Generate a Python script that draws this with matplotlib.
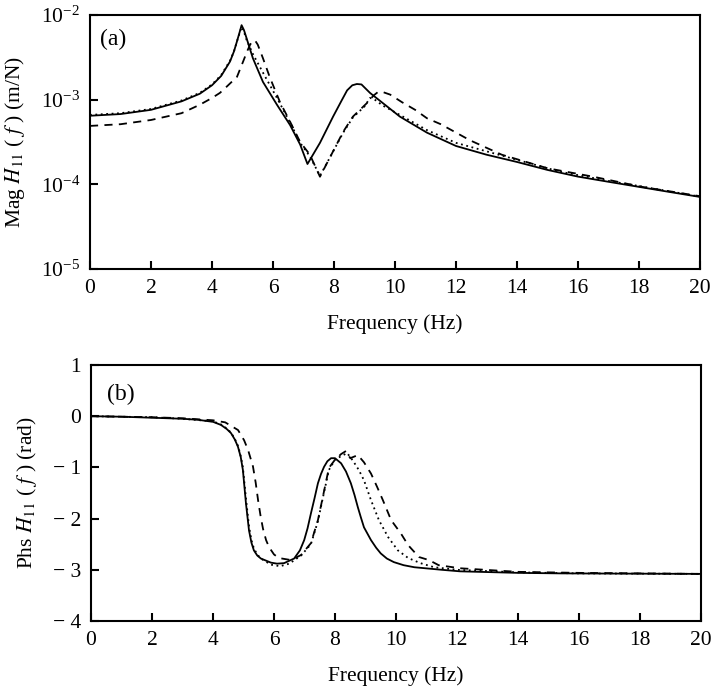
import numpy as np
import matplotlib
matplotlib.use('Agg')
import matplotlib.pyplot as plt

plt.rcParams['font.family'] = ['Liberation Serif', 'DejaVu Serif']
plt.rcParams['mathtext.fontset'] = 'stix'

# ---- panel (a): magnitude, stored as log10 of m/N ----
f_mag_solid = [0, 1, 2, 3, 3.6, 4.0, 4.3, 4.59, 4.72, 4.82, 4.9, 4.97, 5.05, 5.13, 5.34, 5.67, 6.13,
               6.56, 6.89, 7.13, 7.54, 7.97, 8.25, 8.43, 8.6, 8.75, 8.9, 9.18, 9.6, 10.16, 11.05, 12, 13,
               14, 15, 16, 17, 18, 19, 20]
logmag_solid = [-3.19, -3.17, -3.12, -3.02, -2.93, -2.83, -2.72, -2.55, -2.43, -2.31, -2.21, -2.12, -2.18,
                -2.27, -2.51, -2.79, -3.06, -3.30, -3.53, -3.76, -3.51, -3.20, -3.01, -2.89, -2.83, -2.815,
                -2.82, -2.92, -3.04, -3.20, -3.39, -3.547, -3.65, -3.736, -3.83, -3.909, -3.97, -4.03,
                -4.09, -4.149]

f_mag_dashed = [0, 1, 2, 3, 3.6, 4.0, 4.26, 4.5, 4.82, 5.02, 5.15, 5.25, 5.33, 5.41, 5.5, 5.67, 5.9, 6.23,
                6.56, 6.89, 7.21, 7.54, 7.87, 8.3, 8.62, 9.08, 9.3, 9.44, 9.6, 9.84, 10.23, 10.66, 11.05,
                11.5, 12.46, 13.5, 15, 16.5, 18.1, 20]
logmag_dashed = [-3.31, -3.29, -3.24, -3.16, -3.06, -2.98, -2.92, -2.84, -2.73, -2.55, -2.43, -2.35, -2.31,
                 -2.30, -2.35, -2.51, -2.74, -3.03, -3.26, -3.50, -3.65, -3.91, -3.68, -3.38, -3.20, -3.04,
                 -2.95, -2.91, -2.91, -2.94, -3.03, -3.12, -3.22, -3.29, -3.48, -3.65, -3.81, -3.91, -4.03,
                 -4.14]

f_mag_dotted = [0, 1, 2, 3, 3.6, 4.0, 4.3, 4.59, 4.72, 4.82, 4.9, 4.97, 5.05, 5.13, 5.34, 5.67, 6.13, 6.56,
                6.89, 7.21, 7.54, 7.87, 8.3, 8.62, 9.0, 9.18, 9.3, 9.6, 10.16, 11.05, 12, 13.2, 15.4, 17,
                18, 20]
logmag_dotted = [-3.18, -3.16, -3.11, -3.01, -2.92, -2.82, -2.71, -2.54, -2.43, -2.31, -2.22, -2.14, -2.2,
                 -2.29, -2.46, -2.68, -2.98, -3.27, -3.51, -3.67, -3.90, -3.68, -3.39, -3.21, -3.08, -2.98,
                 -2.99, -3.07, -3.18, -3.36, -3.51, -3.63, -3.85, -3.96, -4.02, -4.145]

# ---- panel (b): phase in rad ----
f_phs_solid = [0, 1, 2, 3, 3.5, 4.0, 4.26, 4.45, 4.59, 4.72, 4.82, 4.91, 4.98, 5.08, 5.18, 5.26, 5.34,
               5.45, 5.57, 5.9, 6.1, 6.33, 6.66, 6.85, 6.99, 7.1, 7.21, 7.33, 7.44, 7.54, 7.64, 7.75, 7.87,
               8.0, 8.2, 8.36, 8.52, 8.64, 8.75, 8.85, 8.95, 9.18, 9.35, 9.5, 9.7, 9.93, 10.25, 10.6, 11.5,
               12.1, 14, 15.4, 20]
phs_solid = [0.0, -0.01, -0.03, -0.05, -0.07, -0.11, -0.17, -0.25, -0.33, -0.46, -0.6, -0.8, -1.05, -1.7,
             -2.23, -2.47, -2.62, -2.72, -2.78, -2.86, -2.88, -2.87, -2.78, -2.62, -2.42, -2.19, -1.9,
             -1.6, -1.31, -1.13, -0.99, -0.88, -0.82, -0.82, -0.92, -1.08, -1.31, -1.54, -1.78, -1.98,
             -2.17, -2.42, -2.57, -2.68, -2.78, -2.85, -2.91, -2.95, -3.0, -3.03, -3.06, -3.07, -3.08]

f_phs_dashed = [0, 1, 2, 3, 4, 4.4, 4.82, 5.02, 5.15, 5.31, 5.4, 5.48, 5.56, 5.64, 5.74, 5.84, 6.0, 6.16,
                6.56, 6.89, 7.21, 7.44, 7.6, 7.8, 8.0, 8.2, 8.36, 8.5, 8.75, 8.95, 9.18, 9.38, 9.57, 9.84,
                10.16, 10.4, 10.75, 11.08, 11.4, 12.1, 14, 16, 18, 20]
phs_dashed = [0.0, -0.01, -0.02, -0.04, -0.08, -0.12, -0.27, -0.47, -0.66, -0.98, -1.3, -1.65, -1.95, -2.2,
              -2.42, -2.56, -2.7, -2.77, -2.81, -2.71, -2.48, -2.03, -1.58, -1.01, -0.85, -0.74, -0.68,
              -0.82, -0.76, -0.9, -1.12, -1.38, -1.64, -2.03, -2.29, -2.52, -2.75, -2.81, -2.91, -2.97,
              -3.04, -3.06, -3.07, -3.08]

f_phs_dotted = [0, 1, 2, 3, 4, 4.26, 4.45, 4.59, 4.72, 4.82, 4.91, 4.98, 5.08, 5.18, 5.26, 5.34, 5.45,
                5.57, 5.9, 6.2, 6.5, 6.89, 7.21, 7.44, 7.6, 7.8, 8.0, 8.2, 8.4, 8.6, 8.78, 8.95, 9.18, 9.44,
                9.74, 10.06, 10.4, 10.8, 11.25, 12, 14, 16, 20]
phs_dotted = [0.0, -0.01, -0.02, -0.05, -0.1, -0.16, -0.24, -0.32, -0.45, -0.58, -0.78, -1.0, -1.6, -2.15,
              -2.42, -2.58, -2.7, -2.78, -2.9, -2.93, -2.88, -2.72, -2.5, -2.05, -1.6, -1.05, -0.85, -0.78,
              -0.72, -0.88, -1.05, -1.25, -1.64, -2.03, -2.36, -2.62, -2.77, -2.87, -2.95, -3.0, -3.05,
              -3.07, -3.08]

x_ticks = [0, 2, 4, 6, 8, 10, 12, 14, 16, 18, 20]
phs_ticks = [-4, -3, -2, -1, 0, 1]
phs_ticklabels = ['\u2212 4', '\u2212 3', '\u2212 2', '\u2212 1', '0', '1']

FS = 15.5


def style_axes(ax):
    for s in ax.spines.values():
        s.set_linewidth(1.5)
    ax.tick_params(which='major', direction='in', length=6, width=1.5, labelsize=FS,
                   top=False, right=False, pad=7)
    ax.tick_params(which='minor', length=0)
    ax.set_xlim(0, 20)
    ax.set_xticks(x_ticks)
    ax.set_xlabel('Frequency (Hz)', fontsize=FS, labelpad=12)


fig = plt.figure(figsize=(7.15, 6.88), dpi=100)
ax1 = fig.add_axes([90 / 715, 1 - 269 / 688, 610 / 715, 254 / 688])
ax2 = fig.add_axes([91 / 715, 1 - 621 / 688, 610 / 715, 256 / 688])

lw = 1.3
ax1.plot(f_mag_solid, np.power(10.0, logmag_solid), color='k', lw=lw)
ax1.plot(f_mag_dashed, np.power(10.0, logmag_dashed), color='k', lw=lw, dashes=(4.5, 3.5))
ax1.plot(f_mag_dotted, np.power(10.0, logmag_dotted), color='k', lw=lw, dashes=(1, 2))
ax1.set_yscale('log')
ax1.set_ylim(1e-5, 1e-2)
ax1.set_yticks([1e-5, 1e-4, 1e-3, 1e-2])
style_axes(ax1)
ax1.set_ylabel('Mag $H_{11}$ ( $f$ ) (m/N)', fontsize=FS, labelpad=10)
ax1.text(0.016, 0.905, '(a)', transform=ax1.transAxes, fontsize=17, va='center')

ax2.plot(f_phs_solid, phs_solid, color='k', lw=lw)
ax2.plot(f_phs_dashed, phs_dashed, color='k', lw=lw, dashes=(4.5, 3.5))
ax2.plot(f_phs_dotted, phs_dotted, color='k', lw=lw, dashes=(1, 2))
ax2.set_ylim(-4, 1)
ax2.set_yticks(phs_ticks, labels=phs_ticklabels)
style_axes(ax2)
ax2.set_ylabel('Phs $H_{11}$ ( $f$ ) (rad)', fontsize=FS, labelpad=10)
ax2.text(0.026, 0.883, '(b)', transform=ax2.transAxes, fontsize=17, va='center')

fig.savefig('out.png', dpi=100)
